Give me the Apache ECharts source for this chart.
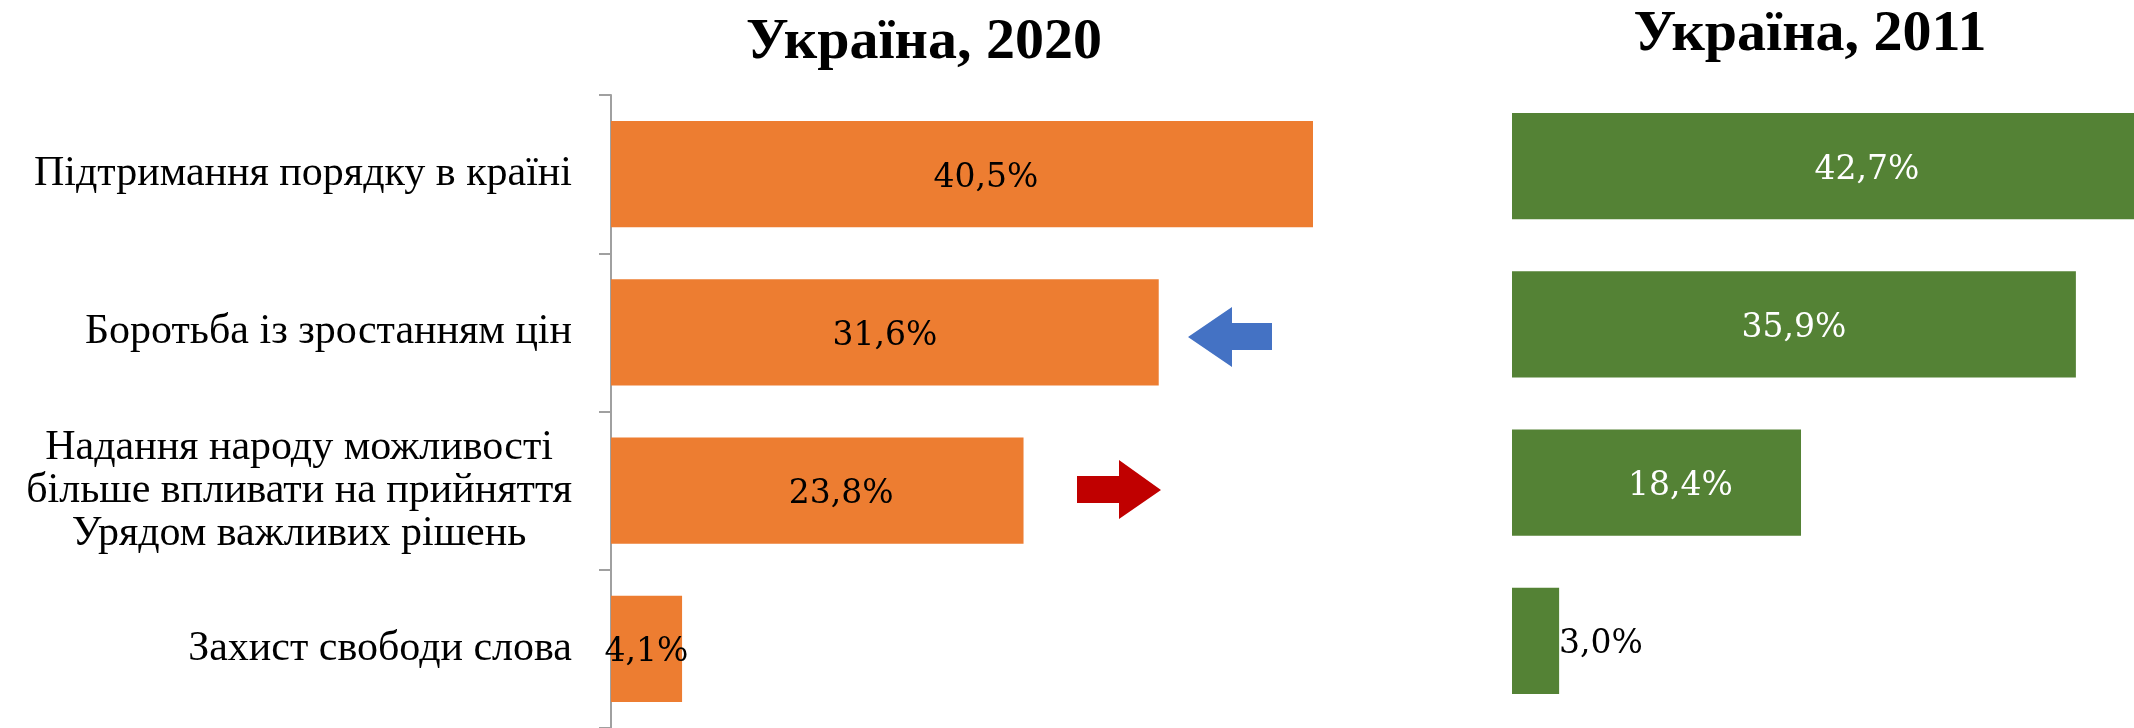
<!DOCTYPE html>
<html>
<head>
<meta charset="utf-8">
<script src="https://cdn.jsdelivr.net/npm/echarts@6/dist/echarts.min.js"></script>
<style>
    html, body { margin: 0; padding: 0; background: #fff; }
    #chart { width: 2134px; height: 728px; }
</style>
</head>
<body>
<div id="chart"></div>
<script>
var categories = [
    'Підтримання порядку в країні',
    'Боротьба із зростанням цін',
    'Надання народу можливості\nбільше впливати на прийняття\nУрядом важливих рішень',
    'Захист свободи слова'
];
var values2020 = [40.5, 31.6, 23.8, 4.1];
var values2011 = [42.7, 35.9, 18.4, 3.0];
var titles = ['Україна, 2020', 'Україна, 2011'];

window.onload = function () {
    drawChart();
};

function pct(p) {
    return p.value.toFixed(1).replace('.', ',') + '%';
}

// labels of 1st and 3rd bars sit a bit right of centre in the original
function withLabels(values, lastOutside, firstShift) {
    return values.map(function (v, i) {
        if (lastOutside && i === values.length - 1) {
            return { value: v, label: { position: 'right', distance: 0, color: '#000' } };
        }
        if (i === 0) {
            return { value: v, label: { offset: [firstShift, 4] } };
        }
        if (i === 2) {
            return { value: v, label: { offset: [24, 4] } };
        }
        return v;
    });
}

function drawChart() {
    var chart = echarts.init(document.getElementById('chart'));

    var option = {
        animation: false,
        title: [
            {
                text: titles[0], left: 919, top: 9, textAlign: 'center',
                textStyle: { fontFamily: 'Liberation Serif', fontWeight: 'bold', fontSize: 58, color: '#000' }
            },
            {
                text: titles[1], left: 1805, top: 1, textAlign: 'center',
                textStyle: { fontFamily: 'Liberation Serif', fontWeight: 'bold', fontSize: 58, color: '#000' }
            }
        ],
        grid: [
            { left: 611, top: 95, width: 780, height: 633 },
            { left: 1512, top: 87, right: 0, height: 633 }
        ],
        xAxis: [
            { gridIndex: 0, type: 'value', min: 0, max: 45, show: false },
            { gridIndex: 1, type: 'value', min: 0, max: 39.6, show: false }
        ],
        yAxis: [
            {
                gridIndex: 0,
                type: 'category',
                inverse: true,
                data: categories,
                axisLine: { show: true, lineStyle: { color: '#a0a0a0', width: 2 } },
                axisTick: { show: true, length: 12, lineStyle: { color: '#a0a0a0', width: 2 } },
                axisLabel: {
                    margin: 39,
                    formatter: function (v) {
                        return v.split('\n').map(function (l) { return '{c|' + l + '}'; }).join('\n');
                    },
                    rich: {
                        c: {
                            align: 'center',
                            fontFamily: 'Liberation Serif',
                            fontSize: 42,
                            lineHeight: 43,
                            color: '#000'
                        }
                    }
                }
            },
            {
                gridIndex: 1,
                type: 'category',
                inverse: true,
                data: categories,
                show: false
            }
        ],
        series: [
            {
                type: 'bar',
                xAxisIndex: 0,
                yAxisIndex: 0,
                data: withLabels(values2020, false, 24),
                barCategoryGap: '33%',
                itemStyle: { color: '#ED7D31' },
                label: {
                    show: true,
                    position: 'inside',
                    offset: [0, 4],
                    formatter: pct,
                    fontFamily: 'DejaVu Serif',
                    fontSize: 33,
                    color: '#000'
                }
            },
            {
                type: 'bar',
                xAxisIndex: 1,
                yAxisIndex: 1,
                data: withLabels(values2011, true, 44),
                barCategoryGap: '33%',
                itemStyle: { color: '#548235' },
                label: {
                    show: true,
                    position: 'inside',
                    offset: [0, 4],
                    formatter: pct,
                    fontFamily: 'DejaVu Serif',
                    fontSize: 33,
                    color: '#fff'
                }
            }
        ],
        graphic: [
            {
                // blue arrow pointing left
                type: 'polygon',
                shape: { points: [[1188, 337], [1232, 307], [1232, 323], [1272, 323], [1272, 350], [1232, 350], [1232, 367]] },
                style: { fill: '#4472C4' }
            },
            {
                // red arrow pointing right
                type: 'polygon',
                shape: { points: [[1161, 490], [1119, 460], [1119, 476], [1077, 476], [1077, 503], [1119, 503], [1119, 519]] },
                style: { fill: '#C00000' }
            }
        ]
    };

    chart.setOption(option);
}
</script>
</body>
</html>
